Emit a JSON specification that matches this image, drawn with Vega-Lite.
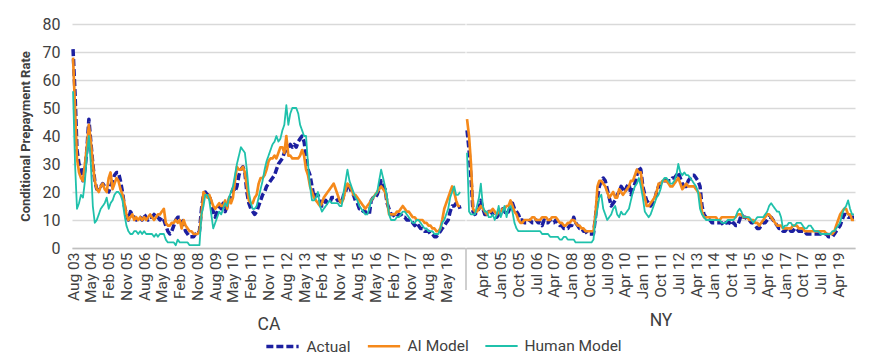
{
  "$schema": "https://vega.github.io/schema/vega-lite/v6.json",
  "background": "white",
  "padding": {"left": 19, "top": 16, "right": 10, "bottom": 0},
  "config": {
    "font": "Roboto",
    "view": {"stroke": null},
    "axis": {"labelColor": "#404040", "titleColor": "#404040", "labelFont": "Roboto", "titleFont": "Roboto"},
    "legend": {"labelFont": "Roboto", "labelColor": "#404040"},
    "line": {"strokeCap": "butt", "strokeJoin": "round"}
  },
  "datasets": {
    "rows": [
      {"state":"CA","date":"2003-08","actual":71,"ai":68,"human":56},
      {"state":"CA","date":"2003-09","actual":55,"ai":50,"human":30},
      {"state":"CA","date":"2003-10","actual":35,"ai":32,"human":14},
      {"state":"CA","date":"2003-11","actual":30,"ai":27,"human":16},
      {"state":"CA","date":"2003-12","actual":29,"ai":25,"human":19},
      {"state":"CA","date":"2004-01","actual":24,"ai":24,"human":18},
      {"state":"CA","date":"2004-02","actual":28,"ai":30,"human":24},
      {"state":"CA","date":"2004-03","actual":35,"ai":36,"human":33},
      {"state":"CA","date":"2004-04","actual":46,"ai":44,"human":40},
      {"state":"CA","date":"2004-05","actual":38,"ai":38,"human":30},
      {"state":"CA","date":"2004-06","actual":30,"ai":30,"human":15},
      {"state":"CA","date":"2004-07","actual":24,"ai":24,"human":9},
      {"state":"CA","date":"2004-08","actual":21,"ai":21,"human":10},
      {"state":"CA","date":"2004-09","actual":22,"ai":20,"human":12},
      {"state":"CA","date":"2004-10","actual":22,"ai":22,"human":14},
      {"state":"CA","date":"2004-11","actual":23,"ai":23,"human":15},
      {"state":"CA","date":"2004-12","actual":22,"ai":21,"human":16},
      {"state":"CA","date":"2005-01","actual":21,"ai":20,"human":18},
      {"state":"CA","date":"2005-02","actual":20,"ai":25,"human":14},
      {"state":"CA","date":"2005-03","actual":22,"ai":27,"human":16},
      {"state":"CA","date":"2005-04","actual":24,"ai":21,"human":17},
      {"state":"CA","date":"2005-05","actual":26,"ai":23,"human":19},
      {"state":"CA","date":"2005-06","actual":27,"ai":25,"human":20},
      {"state":"CA","date":"2005-07","actual":27,"ai":24,"human":20},
      {"state":"CA","date":"2005-08","actual":24,"ai":21,"human":19},
      {"state":"CA","date":"2005-09","actual":20,"ai":19,"human":17},
      {"state":"CA","date":"2005-10","actual":15,"ai":16,"human":12},
      {"state":"CA","date":"2005-11","actual":12,"ai":12,"human":8},
      {"state":"CA","date":"2005-12","actual":10,"ai":10,"human":6},
      {"state":"CA","date":"2006-01","actual":13,"ai":11,"human":5},
      {"state":"CA","date":"2006-02","actual":12,"ai":12,"human":5},
      {"state":"CA","date":"2006-03","actual":11,"ai":10,"human":6},
      {"state":"CA","date":"2006-04","actual":10,"ai":11,"human":6},
      {"state":"CA","date":"2006-05","actual":11,"ai":10,"human":5},
      {"state":"CA","date":"2006-06","actual":11,"ai":11,"human":6},
      {"state":"CA","date":"2006-07","actual":10,"ai":10,"human":5},
      {"state":"CA","date":"2006-08","actual":12,"ai":11,"human":6},
      {"state":"CA","date":"2006-09","actual":11,"ai":10,"human":5},
      {"state":"CA","date":"2006-10","actual":10,"ai":11,"human":5},
      {"state":"CA","date":"2006-11","actual":11,"ai":12,"human":5},
      {"state":"CA","date":"2006-12","actual":11,"ai":11,"human":5},
      {"state":"CA","date":"2007-01","actual":12,"ai":10,"human":4},
      {"state":"CA","date":"2007-02","actual":11,"ai":11,"human":5},
      {"state":"CA","date":"2007-03","actual":11,"ai":12,"human":4},
      {"state":"CA","date":"2007-04","actual":10,"ai":12,"human":5},
      {"state":"CA","date":"2007-05","actual":11,"ai":13,"human":5},
      {"state":"CA","date":"2007-06","actual":10,"ai":14,"human":5},
      {"state":"CA","date":"2007-07","actual":8,"ai":9,"human":3},
      {"state":"CA","date":"2007-08","actual":6,"ai":8,"human":2},
      {"state":"CA","date":"2007-09","actual":5,"ai":8,"human":2},
      {"state":"CA","date":"2007-10","actual":6,"ai":9,"human":2},
      {"state":"CA","date":"2007-11","actual":8,"ai":9,"human":2},
      {"state":"CA","date":"2007-12","actual":10,"ai":10,"human":1},
      {"state":"CA","date":"2008-01","actual":11,"ai":9,"human":3},
      {"state":"CA","date":"2008-02","actual":11,"ai":10,"human":2},
      {"state":"CA","date":"2008-03","actual":10,"ai":7,"human":2},
      {"state":"CA","date":"2008-04","actual":8,"ai":10,"human":2},
      {"state":"CA","date":"2008-05","actual":6,"ai":8,"human":2},
      {"state":"CA","date":"2008-06","actual":5,"ai":7,"human":2},
      {"state":"CA","date":"2008-07","actual":4,"ai":6,"human":1},
      {"state":"CA","date":"2008-08","actual":4,"ai":6,"human":1},
      {"state":"CA","date":"2008-09","actual":4,"ai":5,"human":1},
      {"state":"CA","date":"2008-10","actual":5,"ai":5,"human":1},
      {"state":"CA","date":"2008-11","actual":5,"ai":5,"human":1},
      {"state":"CA","date":"2008-12","actual":6,"ai":6,"human":1},
      {"state":"CA","date":"2009-01","actual":14,"ai":12,"human":12},
      {"state":"CA","date":"2009-02","actual":19,"ai":20,"human":15},
      {"state":"CA","date":"2009-03","actual":20,"ai":19,"human":19},
      {"state":"CA","date":"2009-04","actual":19,"ai":18,"human":19},
      {"state":"CA","date":"2009-05","actual":19,"ai":19,"human":17},
      {"state":"CA","date":"2009-06","actual":16,"ai":17,"human":12},
      {"state":"CA","date":"2009-07","actual":13,"ai":15,"human":7},
      {"state":"CA","date":"2009-08","actual":11,"ai":14,"human":9},
      {"state":"CA","date":"2009-09","actual":13,"ai":15,"human":11},
      {"state":"CA","date":"2009-10","actual":15,"ai":16,"human":13},
      {"state":"CA","date":"2009-11","actual":14,"ai":15,"human":12},
      {"state":"CA","date":"2009-12","actual":16,"ai":15,"human":14},
      {"state":"CA","date":"2010-01","actual":13,"ai":17,"human":16},
      {"state":"CA","date":"2010-02","actual":15,"ai":14,"human":15},
      {"state":"CA","date":"2010-03","actual":17,"ai":18,"human":18},
      {"state":"CA","date":"2010-04","actual":19,"ai":16,"human":20},
      {"state":"CA","date":"2010-05","actual":21,"ai":18,"human":22},
      {"state":"CA","date":"2010-06","actual":20,"ai":24,"human":26},
      {"state":"CA","date":"2010-07","actual":22,"ai":29,"human":30},
      {"state":"CA","date":"2010-08","actual":26,"ai":28,"human":33},
      {"state":"CA","date":"2010-09","actual":28,"ai":28,"human":36},
      {"state":"CA","date":"2010-10","actual":29,"ai":29,"human":35},
      {"state":"CA","date":"2010-11","actual":27,"ai":27,"human":34},
      {"state":"CA","date":"2010-12","actual":20,"ai":22,"human":28},
      {"state":"CA","date":"2011-01","actual":16,"ai":17,"human":20},
      {"state":"CA","date":"2011-02","actual":14,"ai":16,"human":16},
      {"state":"CA","date":"2011-03","actual":13,"ai":16,"human":14},
      {"state":"CA","date":"2011-04","actual":12,"ai":18,"human":14},
      {"state":"CA","date":"2011-05","actual":13,"ai":19,"human":15},
      {"state":"CA","date":"2011-06","actual":15,"ai":23,"human":18},
      {"state":"CA","date":"2011-07","actual":17,"ai":25,"human":21},
      {"state":"CA","date":"2011-08","actual":19,"ai":25,"human":24},
      {"state":"CA","date":"2011-09","actual":20,"ai":26,"human":28},
      {"state":"CA","date":"2011-10","actual":22,"ai":28,"human":31},
      {"state":"CA","date":"2011-11","actual":23,"ai":31,"human":33},
      {"state":"CA","date":"2011-12","actual":24,"ai":32,"human":35},
      {"state":"CA","date":"2012-01","actual":25,"ai":32,"human":37},
      {"state":"CA","date":"2012-02","actual":26,"ai":33,"human":38},
      {"state":"CA","date":"2012-03","actual":28,"ai":32,"human":40},
      {"state":"CA","date":"2012-04","actual":30,"ai":34,"human":38},
      {"state":"CA","date":"2012-05","actual":31,"ai":36,"human":39},
      {"state":"CA","date":"2012-06","actual":32,"ai":36,"human":42},
      {"state":"CA","date":"2012-07","actual":34,"ai":34,"human":44},
      {"state":"CA","date":"2012-08","actual":35,"ai":40,"human":51},
      {"state":"CA","date":"2012-09","actual":36,"ai":33,"human":44},
      {"state":"CA","date":"2012-10","actual":37,"ai":33,"human":48},
      {"state":"CA","date":"2012-11","actual":36,"ai":32,"human":50},
      {"state":"CA","date":"2012-12","actual":37,"ai":32,"human":50},
      {"state":"CA","date":"2013-01","actual":36,"ai":32,"human":50},
      {"state":"CA","date":"2013-02","actual":38,"ai":32,"human":48},
      {"state":"CA","date":"2013-03","actual":39,"ai":33,"human":44},
      {"state":"CA","date":"2013-04","actual":40,"ai":35,"human":42},
      {"state":"CA","date":"2013-05","actual":38,"ai":33,"human":40},
      {"state":"CA","date":"2013-06","actual":33,"ai":28,"human":40},
      {"state":"CA","date":"2013-07","actual":28,"ai":26,"human":30},
      {"state":"CA","date":"2013-08","actual":26,"ai":22,"human":22},
      {"state":"CA","date":"2013-09","actual":22,"ai":20,"human":17},
      {"state":"CA","date":"2013-10","actual":18,"ai":18,"human":17},
      {"state":"CA","date":"2013-11","actual":19,"ai":17,"human":18},
      {"state":"CA","date":"2013-12","actual":19,"ai":16,"human":20},
      {"state":"CA","date":"2014-01","actual":17,"ai":15,"human":15},
      {"state":"CA","date":"2014-02","actual":15,"ai":16,"human":13},
      {"state":"CA","date":"2014-03","actual":16,"ai":18,"human":14},
      {"state":"CA","date":"2014-04","actual":17,"ai":19,"human":15},
      {"state":"CA","date":"2014-05","actual":16,"ai":20,"human":16},
      {"state":"CA","date":"2014-06","actual":16,"ai":21,"human":17},
      {"state":"CA","date":"2014-07","actual":18,"ai":22,"human":16},
      {"state":"CA","date":"2014-08","actual":18,"ai":23,"human":16},
      {"state":"CA","date":"2014-09","actual":18,"ai":21,"human":16},
      {"state":"CA","date":"2014-10","actual":17,"ai":19,"human":16},
      {"state":"CA","date":"2014-11","actual":17,"ai":17,"human":15},
      {"state":"CA","date":"2014-12","actual":16,"ai":16,"human":15},
      {"state":"CA","date":"2015-01","actual":19,"ai":18,"human":20},
      {"state":"CA","date":"2015-02","actual":20,"ai":21,"human":24},
      {"state":"CA","date":"2015-03","actual":23,"ai":23,"human":28},
      {"state":"CA","date":"2015-04","actual":22,"ai":22,"human":24},
      {"state":"CA","date":"2015-05","actual":20,"ai":21,"human":22},
      {"state":"CA","date":"2015-06","actual":19,"ai":19,"human":20},
      {"state":"CA","date":"2015-07","actual":17,"ai":19,"human":18},
      {"state":"CA","date":"2015-08","actual":16,"ai":18,"human":17},
      {"state":"CA","date":"2015-09","actual":14,"ai":17,"human":15},
      {"state":"CA","date":"2015-10","actual":14,"ai":16,"human":14},
      {"state":"CA","date":"2015-11","actual":13,"ai":15,"human":13},
      {"state":"CA","date":"2015-12","actual":13,"ai":14,"human":12},
      {"state":"CA","date":"2016-01","actual":12,"ai":15,"human":12},
      {"state":"CA","date":"2016-02","actual":12,"ai":16,"human":14},
      {"state":"CA","date":"2016-03","actual":17,"ai":17,"human":17},
      {"state":"CA","date":"2016-04","actual":18,"ai":18,"human":18},
      {"state":"CA","date":"2016-05","actual":18,"ai":19,"human":19},
      {"state":"CA","date":"2016-06","actual":19,"ai":20,"human":20},
      {"state":"CA","date":"2016-07","actual":21,"ai":21,"human":24},
      {"state":"CA","date":"2016-08","actual":24,"ai":22,"human":28},
      {"state":"CA","date":"2016-09","actual":22,"ai":21,"human":25},
      {"state":"CA","date":"2016-10","actual":21,"ai":20,"human":22},
      {"state":"CA","date":"2016-11","actual":16,"ai":17,"human":18},
      {"state":"CA","date":"2016-12","actual":14,"ai":12,"human":12},
      {"state":"CA","date":"2017-01","actual":12,"ai":12,"human":10},
      {"state":"CA","date":"2017-02","actual":12,"ai":12,"human":10},
      {"state":"CA","date":"2017-03","actual":11,"ai":12,"human":10},
      {"state":"CA","date":"2017-04","actual":11,"ai":13,"human":11},
      {"state":"CA","date":"2017-05","actual":12,"ai":13,"human":11},
      {"state":"CA","date":"2017-06","actual":12,"ai":14,"human":12},
      {"state":"CA","date":"2017-07","actual":11,"ai":15,"human":13},
      {"state":"CA","date":"2017-08","actual":11,"ai":14,"human":13},
      {"state":"CA","date":"2017-09","actual":10,"ai":13,"human":12},
      {"state":"CA","date":"2017-10","actual":10,"ai":13,"human":11},
      {"state":"CA","date":"2017-11","actual":10,"ai":12,"human":10},
      {"state":"CA","date":"2017-12","actual":9,"ai":11,"human":9},
      {"state":"CA","date":"2018-01","actual":8,"ai":11,"human":9},
      {"state":"CA","date":"2018-02","actual":9,"ai":10,"human":10},
      {"state":"CA","date":"2018-03","actual":8,"ai":10,"human":10},
      {"state":"CA","date":"2018-04","actual":7,"ai":10,"human":9},
      {"state":"CA","date":"2018-05","actual":7,"ai":10,"human":8},
      {"state":"CA","date":"2018-06","actual":6,"ai":9,"human":7},
      {"state":"CA","date":"2018-07","actual":6,"ai":9,"human":7},
      {"state":"CA","date":"2018-08","actual":6,"ai":8,"human":6},
      {"state":"CA","date":"2018-09","actual":5,"ai":8,"human":6},
      {"state":"CA","date":"2018-10","actual":5,"ai":7,"human":6},
      {"state":"CA","date":"2018-11","actual":4,"ai":7,"human":5},
      {"state":"CA","date":"2018-12","actual":4,"ai":6,"human":5},
      {"state":"CA","date":"2019-01","actual":5,"ai":6,"human":5},
      {"state":"CA","date":"2019-02","actual":6,"ai":7,"human":7},
      {"state":"CA","date":"2019-03","actual":7,"ai":10,"human":9},
      {"state":"CA","date":"2019-04","actual":8,"ai":14,"human":10},
      {"state":"CA","date":"2019-05","actual":9,"ai":16,"human":12},
      {"state":"CA","date":"2019-06","actual":10,"ai":18,"human":14},
      {"state":"CA","date":"2019-07","actual":13,"ai":20,"human":18},
      {"state":"CA","date":"2019-08","actual":15,"ai":22,"human":20},
      {"state":"CA","date":"2019-09","actual":15,"ai":20,"human":22},
      {"state":"CA","date":"2019-10","actual":16,"ai":17,"human":19},
      {"state":"CA","date":"2019-11","actual":16,"ai":15,"human":19},
      {"state":"CA","date":"2019-12","actual":14,"ai":15,"human":20},
      {"state":"NY","date":"2003-08","actual":42,"ai":46,"human":34},
      {"state":"NY","date":"2003-09","actual":35,"ai":40,"human":13},
      {"state":"NY","date":"2003-10","actual":25,"ai":30,"human":12},
      {"state":"NY","date":"2003-11","actual":13,"ai":14,"human":12},
      {"state":"NY","date":"2003-12","actual":12,"ai":13,"human":12},
      {"state":"NY","date":"2004-01","actual":13,"ai":13,"human":15},
      {"state":"NY","date":"2004-02","actual":14,"ai":14,"human":18},
      {"state":"NY","date":"2004-03","actual":17,"ai":15,"human":23},
      {"state":"NY","date":"2004-04","actual":14,"ai":14,"human":15},
      {"state":"NY","date":"2004-05","actual":12,"ai":13,"human":13},
      {"state":"NY","date":"2004-06","actual":12,"ai":12,"human":13},
      {"state":"NY","date":"2004-07","actual":13,"ai":13,"human":11},
      {"state":"NY","date":"2004-08","actual":13,"ai":13,"human":11},
      {"state":"NY","date":"2004-09","actual":12,"ai":14,"human":12},
      {"state":"NY","date":"2004-10","actual":11,"ai":13,"human":10},
      {"state":"NY","date":"2004-11","actual":11,"ai":12,"human":12},
      {"state":"NY","date":"2004-12","actual":12,"ai":13,"human":15},
      {"state":"NY","date":"2005-01","actual":13,"ai":13,"human":11},
      {"state":"NY","date":"2005-02","actual":14,"ai":14,"human":13},
      {"state":"NY","date":"2005-03","actual":13,"ai":14,"human":15},
      {"state":"NY","date":"2005-04","actual":12,"ai":15,"human":11},
      {"state":"NY","date":"2005-05","actual":13,"ai":15,"human":14},
      {"state":"NY","date":"2005-06","actual":15,"ai":17,"human":15},
      {"state":"NY","date":"2005-07","actual":16,"ai":15,"human":13},
      {"state":"NY","date":"2005-08","actual":14,"ai":13,"human":9},
      {"state":"NY","date":"2005-09","actual":13,"ai":12,"human":7},
      {"state":"NY","date":"2005-10","actual":12,"ai":10,"human":6},
      {"state":"NY","date":"2005-11","actual":10,"ai":9,"human":6},
      {"state":"NY","date":"2005-12","actual":10,"ai":9,"human":6},
      {"state":"NY","date":"2006-01","actual":9,"ai":10,"human":6},
      {"state":"NY","date":"2006-02","actual":9,"ai":10,"human":6},
      {"state":"NY","date":"2006-03","actual":9,"ai":10,"human":6},
      {"state":"NY","date":"2006-04","actual":10,"ai":10,"human":6},
      {"state":"NY","date":"2006-05","actual":9,"ai":11,"human":6},
      {"state":"NY","date":"2006-06","actual":9,"ai":11,"human":6},
      {"state":"NY","date":"2006-07","actual":10,"ai":10,"human":6},
      {"state":"NY","date":"2006-08","actual":9,"ai":10,"human":6},
      {"state":"NY","date":"2006-09","actual":9,"ai":10,"human":6},
      {"state":"NY","date":"2006-10","actual":8,"ai":11,"human":5},
      {"state":"NY","date":"2006-11","actual":10,"ai":11,"human":5},
      {"state":"NY","date":"2006-12","actual":9,"ai":11,"human":5},
      {"state":"NY","date":"2007-01","actual":9,"ai":10,"human":5},
      {"state":"NY","date":"2007-02","actual":10,"ai":10,"human":4},
      {"state":"NY","date":"2007-03","actual":9,"ai":11,"human":4},
      {"state":"NY","date":"2007-04","actual":9,"ai":11,"human":4},
      {"state":"NY","date":"2007-05","actual":10,"ai":11,"human":4},
      {"state":"NY","date":"2007-06","actual":9,"ai":10,"human":4},
      {"state":"NY","date":"2007-07","actual":8,"ai":9,"human":3},
      {"state":"NY","date":"2007-08","actual":8,"ai":9,"human":3},
      {"state":"NY","date":"2007-09","actual":7,"ai":8,"human":4},
      {"state":"NY","date":"2007-10","actual":7,"ai":8,"human":4},
      {"state":"NY","date":"2007-11","actual":7,"ai":9,"human":3},
      {"state":"NY","date":"2007-12","actual":8,"ai":9,"human":3},
      {"state":"NY","date":"2008-01","actual":8,"ai":10,"human":3},
      {"state":"NY","date":"2008-02","actual":11,"ai":10,"human":3},
      {"state":"NY","date":"2008-03","actual":9,"ai":9,"human":2},
      {"state":"NY","date":"2008-04","actual":8,"ai":8,"human":2},
      {"state":"NY","date":"2008-05","actual":7,"ai":8,"human":2},
      {"state":"NY","date":"2008-06","actual":7,"ai":7,"human":2},
      {"state":"NY","date":"2008-07","actual":6,"ai":7,"human":2},
      {"state":"NY","date":"2008-08","actual":6,"ai":6,"human":2},
      {"state":"NY","date":"2008-09","actual":5,"ai":6,"human":2},
      {"state":"NY","date":"2008-10","actual":5,"ai":6,"human":2},
      {"state":"NY","date":"2008-11","actual":5,"ai":6,"human":2},
      {"state":"NY","date":"2008-12","actual":5,"ai":6,"human":3},
      {"state":"NY","date":"2009-01","actual":11,"ai":12,"human":10},
      {"state":"NY","date":"2009-02","actual":18,"ai":22,"human":14},
      {"state":"NY","date":"2009-03","actual":22,"ai":24,"human":18},
      {"state":"NY","date":"2009-04","actual":24,"ai":24,"human":19},
      {"state":"NY","date":"2009-05","actual":25,"ai":23,"human":14},
      {"state":"NY","date":"2009-06","actual":24,"ai":22,"human":12},
      {"state":"NY","date":"2009-07","actual":21,"ai":20,"human":10},
      {"state":"NY","date":"2009-08","actual":18,"ai":18,"human":11},
      {"state":"NY","date":"2009-09","actual":15,"ai":19,"human":12},
      {"state":"NY","date":"2009-10","actual":16,"ai":20,"human":14},
      {"state":"NY","date":"2009-11","actual":17,"ai":18,"human":15},
      {"state":"NY","date":"2009-12","actual":19,"ai":18,"human":12},
      {"state":"NY","date":"2010-01","actual":20,"ai":21,"human":11},
      {"state":"NY","date":"2010-02","actual":22,"ai":20,"human":13},
      {"state":"NY","date":"2010-03","actual":21,"ai":19,"human":12},
      {"state":"NY","date":"2010-04","actual":20,"ai":20,"human":12},
      {"state":"NY","date":"2010-05","actual":22,"ai":21,"human":13},
      {"state":"NY","date":"2010-06","actual":23,"ai":22,"human":14},
      {"state":"NY","date":"2010-07","actual":19,"ai":24,"human":17},
      {"state":"NY","date":"2010-08","actual":21,"ai":24,"human":20},
      {"state":"NY","date":"2010-09","actual":23,"ai":26,"human":22},
      {"state":"NY","date":"2010-10","actual":26,"ai":28,"human":23},
      {"state":"NY","date":"2010-11","actual":29,"ai":27,"human":25},
      {"state":"NY","date":"2010-12","actual":28,"ai":27,"human":22},
      {"state":"NY","date":"2011-01","actual":22,"ai":21,"human":18},
      {"state":"NY","date":"2011-02","actual":19,"ai":18,"human":13},
      {"state":"NY","date":"2011-03","actual":17,"ai":15,"human":12},
      {"state":"NY","date":"2011-04","actual":16,"ai":15,"human":11},
      {"state":"NY","date":"2011-05","actual":15,"ai":16,"human":12},
      {"state":"NY","date":"2011-06","actual":16,"ai":17,"human":14},
      {"state":"NY","date":"2011-07","actual":17,"ai":18,"human":16},
      {"state":"NY","date":"2011-08","actual":20,"ai":20,"human":18},
      {"state":"NY","date":"2011-09","actual":22,"ai":23,"human":19},
      {"state":"NY","date":"2011-10","actual":23,"ai":23,"human":21},
      {"state":"NY","date":"2011-11","actual":24,"ai":24,"human":24},
      {"state":"NY","date":"2011-12","actual":24,"ai":24,"human":25},
      {"state":"NY","date":"2012-01","actual":24,"ai":24,"human":25},
      {"state":"NY","date":"2012-02","actual":24,"ai":23,"human":24},
      {"state":"NY","date":"2012-03","actual":24,"ai":22,"human":23},
      {"state":"NY","date":"2012-04","actual":25,"ai":22,"human":23},
      {"state":"NY","date":"2012-05","actual":25,"ai":23,"human":24},
      {"state":"NY","date":"2012-06","actual":26,"ai":24,"human":26},
      {"state":"NY","date":"2012-07","actual":27,"ai":25,"human":30},
      {"state":"NY","date":"2012-08","actual":25,"ai":23,"human":27},
      {"state":"NY","date":"2012-09","actual":23,"ai":21,"human":26},
      {"state":"NY","date":"2012-10","actual":22,"ai":22,"human":27},
      {"state":"NY","date":"2012-11","actual":22,"ai":23,"human":26},
      {"state":"NY","date":"2012-12","actual":24,"ai":22,"human":26},
      {"state":"NY","date":"2013-01","actual":25,"ai":22,"human":25},
      {"state":"NY","date":"2013-02","actual":26,"ai":22,"human":24},
      {"state":"NY","date":"2013-03","actual":26,"ai":22,"human":23},
      {"state":"NY","date":"2013-04","actual":25,"ai":21,"human":22},
      {"state":"NY","date":"2013-05","actual":24,"ai":20,"human":20},
      {"state":"NY","date":"2013-06","actual":22,"ai":19,"human":14},
      {"state":"NY","date":"2013-07","actual":15,"ai":13,"human":12},
      {"state":"NY","date":"2013-08","actual":12,"ai":11,"human":11},
      {"state":"NY","date":"2013-09","actual":11,"ai":11,"human":10},
      {"state":"NY","date":"2013-10","actual":10,"ai":11,"human":10},
      {"state":"NY","date":"2013-11","actual":10,"ai":11,"human":10},
      {"state":"NY","date":"2013-12","actual":9,"ai":11,"human":10},
      {"state":"NY","date":"2014-01","actual":9,"ai":11,"human":10},
      {"state":"NY","date":"2014-02","actual":9,"ai":11,"human":10},
      {"state":"NY","date":"2014-03","actual":9,"ai":10,"human":10},
      {"state":"NY","date":"2014-04","actual":9,"ai":10,"human":10},
      {"state":"NY","date":"2014-05","actual":9,"ai":11,"human":9},
      {"state":"NY","date":"2014-06","actual":8,"ai":11,"human":9},
      {"state":"NY","date":"2014-07","actual":9,"ai":11,"human":9},
      {"state":"NY","date":"2014-08","actual":9,"ai":11,"human":10},
      {"state":"NY","date":"2014-09","actual":9,"ai":11,"human":10},
      {"state":"NY","date":"2014-10","actual":8,"ai":11,"human":10},
      {"state":"NY","date":"2014-11","actual":9,"ai":11,"human":10},
      {"state":"NY","date":"2014-12","actual":8,"ai":11,"human":11},
      {"state":"NY","date":"2015-01","actual":8,"ai":12,"human":13},
      {"state":"NY","date":"2015-02","actual":10,"ai":12,"human":14},
      {"state":"NY","date":"2015-03","actual":12,"ai":12,"human":13},
      {"state":"NY","date":"2015-04","actual":11,"ai":11,"human":11},
      {"state":"NY","date":"2015-05","actual":11,"ai":11,"human":11},
      {"state":"NY","date":"2015-06","actual":10,"ai":11,"human":11},
      {"state":"NY","date":"2015-07","actual":10,"ai":10,"human":11},
      {"state":"NY","date":"2015-08","actual":9,"ai":10,"human":10},
      {"state":"NY","date":"2015-09","actual":9,"ai":10,"human":9},
      {"state":"NY","date":"2015-10","actual":8,"ai":9,"human":10},
      {"state":"NY","date":"2015-11","actual":7,"ai":9,"human":11},
      {"state":"NY","date":"2015-12","actual":7,"ai":8,"human":11},
      {"state":"NY","date":"2016-01","actual":8,"ai":9,"human":11},
      {"state":"NY","date":"2016-02","actual":9,"ai":10,"human":11},
      {"state":"NY","date":"2016-03","actual":9,"ai":11,"human":12},
      {"state":"NY","date":"2016-04","actual":10,"ai":12,"human":13},
      {"state":"NY","date":"2016-05","actual":11,"ai":12,"human":15},
      {"state":"NY","date":"2016-06","actual":11,"ai":11,"human":16},
      {"state":"NY","date":"2016-07","actual":10,"ai":10,"human":15},
      {"state":"NY","date":"2016-08","actual":9,"ai":9,"human":14},
      {"state":"NY","date":"2016-09","actual":8,"ai":8,"human":13},
      {"state":"NY","date":"2016-10","actual":7,"ai":8,"human":13},
      {"state":"NY","date":"2016-11","actual":7,"ai":8,"human":11},
      {"state":"NY","date":"2016-12","actual":6,"ai":7,"human":7},
      {"state":"NY","date":"2017-01","actual":6,"ai":7,"human":8},
      {"state":"NY","date":"2017-02","actual":7,"ai":7,"human":8},
      {"state":"NY","date":"2017-03","actual":7,"ai":7,"human":9},
      {"state":"NY","date":"2017-04","actual":6,"ai":7,"human":9},
      {"state":"NY","date":"2017-05","actual":6,"ai":8,"human":8},
      {"state":"NY","date":"2017-06","actual":7,"ai":8,"human":8},
      {"state":"NY","date":"2017-07","actual":7,"ai":8,"human":9},
      {"state":"NY","date":"2017-08","actual":6,"ai":7,"human":9},
      {"state":"NY","date":"2017-09","actual":6,"ai":7,"human":9},
      {"state":"NY","date":"2017-10","actual":6,"ai":7,"human":8},
      {"state":"NY","date":"2017-11","actual":6,"ai":6,"human":7},
      {"state":"NY","date":"2017-12","actual":5,"ai":6,"human":7},
      {"state":"NY","date":"2018-01","actual":5,"ai":6,"human":8},
      {"state":"NY","date":"2018-02","actual":5,"ai":6,"human":8},
      {"state":"NY","date":"2018-03","actual":5,"ai":6,"human":7},
      {"state":"NY","date":"2018-04","actual":5,"ai":6,"human":6},
      {"state":"NY","date":"2018-05","actual":5,"ai":6,"human":6},
      {"state":"NY","date":"2018-06","actual":5,"ai":6,"human":6},
      {"state":"NY","date":"2018-07","actual":5,"ai":6,"human":5},
      {"state":"NY","date":"2018-08","actual":5,"ai":6,"human":5},
      {"state":"NY","date":"2018-09","actual":5,"ai":6,"human":5},
      {"state":"NY","date":"2018-10","actual":5,"ai":5,"human":5},
      {"state":"NY","date":"2018-11","actual":4,"ai":5,"human":5},
      {"state":"NY","date":"2018-12","actual":4,"ai":5,"human":5},
      {"state":"NY","date":"2019-01","actual":4,"ai":5,"human":6},
      {"state":"NY","date":"2019-02","actual":5,"ai":6,"human":6},
      {"state":"NY","date":"2019-03","actual":6,"ai":8,"human":7},
      {"state":"NY","date":"2019-04","actual":7,"ai":10,"human":8},
      {"state":"NY","date":"2019-05","actual":8,"ai":12,"human":9},
      {"state":"NY","date":"2019-06","actual":10,"ai":13,"human":12},
      {"state":"NY","date":"2019-07","actual":12,"ai":14,"human":14},
      {"state":"NY","date":"2019-08","actual":12,"ai":14,"human":15},
      {"state":"NY","date":"2019-09","actual":11,"ai":12,"human":17},
      {"state":"NY","date":"2019-10","actual":11,"ai":12,"human":14},
      {"state":"NY","date":"2019-11","actual":11,"ai":10,"human":12},
      {"state":"NY","date":"2019-12","actual":11,"ai":10,"human":12}
    ]
  },
  "data": {"name": "rows"},
  "transform": [{"fold": ["actual", "ai", "human"], "as": ["series", "rate"]}],
  "spacing": 0,
  "hconcat": [
    {
      "width": 393,
      "height": 224,
      "transform": [{"filter": "datum.state === 'CA'"}],
      "mark": {"type": "line"},
      "encoding": {
        "x": {
          "field": "date", "type": "temporal",
          "scale": {"type": "utc", "domain": [{"year": 2003, "month": 7, "date": 16, "utc": true}, {"year": 2020, "month": 2, "date": 15, "utc": true}]},
          "axis": {
            "values": [
              {"year": 2003, "month": 8, "date": 1, "utc": true},
              {"year": 2004, "month": 5, "date": 1, "utc": true},
              {"year": 2005, "month": 2, "date": 1, "utc": true},
              {"year": 2005, "month": 11, "date": 1, "utc": true},
              {"year": 2006, "month": 8, "date": 1, "utc": true},
              {"year": 2007, "month": 5, "date": 1, "utc": true},
              {"year": 2008, "month": 2, "date": 1, "utc": true},
              {"year": 2008, "month": 11, "date": 1, "utc": true},
              {"year": 2009, "month": 8, "date": 1, "utc": true},
              {"year": 2010, "month": 5, "date": 1, "utc": true},
              {"year": 2011, "month": 2, "date": 1, "utc": true},
              {"year": 2011, "month": 11, "date": 1, "utc": true},
              {"year": 2012, "month": 8, "date": 1, "utc": true},
              {"year": 2013, "month": 5, "date": 1, "utc": true},
              {"year": 2014, "month": 2, "date": 1, "utc": true},
              {"year": 2014, "month": 11, "date": 1, "utc": true},
              {"year": 2015, "month": 8, "date": 1, "utc": true},
              {"year": 2016, "month": 5, "date": 1, "utc": true},
              {"year": 2017, "month": 2, "date": 1, "utc": true},
              {"year": 2017, "month": 11, "date": 1, "utc": true},
              {"year": 2018, "month": 8, "date": 1, "utc": true},
              {"year": 2019, "month": 5, "date": 1, "utc": true}
            ],
            "format": "%b %y",
            "labelAngle": 270, "labelAlign": "right", "labelBaseline": "middle",
            "labelFontSize": 15.5, "labelPadding": 4, "labelOverlap": false, "labelFlush": false,
            "ticks": false, "grid": false,
            "domainColor": "#bfbfbf", "domainWidth": 1.5,
            "title": "CA", "titleFontSize": 17.5, "titleFontWeight": "normal", "titlePadding": 13
          }
        },
        "y": {
          "field": "rate", "type": "quantitative",
          "scale": {"domain": [0, 80], "nice": false},
          "axis": {
            "values": [0, 10, 20, 30, 40, 50, 60, 70, 80],
            "title": "Conditional Prepayment Rate", "titleFontSize": 13, "titleFontWeight": "bold", "titlePadding": 10,
            "labelFontSize": 16, "labelPadding": 12,
            "domain": false, "ticks": false,
            "gridColor": "#d9d9d9", "gridWidth": 1.5
          }
        },
        "color": {
          "field": "series", "type": "nominal",
          "scale": {"domain": ["actual", "ai", "human"], "range": ["#1c1fa0", "#f5891a", "#1fc1ab"]},
          "legend": {
            "title": null, "orient": "none", "legendX": 200, "legendY": 312, "direction": "horizontal",
            "symbolType": "M-1.9,0H1.9", "symbolSize": 289,
            "labelFontSize": 15.5, "columnPadding": 15, "labelOffset": 13.5,
            "labelExpr": "datum.label === 'actual' ? 'Actual' : datum.label === 'ai' ? 'AI Model' : 'Human Model'"
          }
        },
        "strokeDash": {
          "field": "series", "type": "nominal",
          "scale": {"domain": ["actual", "ai", "human"], "range": [[7, 3], [1, 0], [1, 0]]},
          "legend": {
            "title": null, "orient": "none", "legendX": 200, "legendY": 312, "direction": "horizontal",
            "symbolType": "M-1.9,0H1.9", "symbolSize": 289,
            "labelFontSize": 15.5, "columnPadding": 15, "labelOffset": 13.5,
            "labelExpr": "datum.label === 'actual' ? 'Actual' : datum.label === 'ai' ? 'AI Model' : 'Human Model'"
          }
        },
        "strokeWidth": {
          "field": "series", "type": "ordinal",
          "scale": {"domain": ["actual", "ai", "human"], "range": [3.5, 1.8, 1.6]},
          "legend": {
            "title": null, "orient": "none", "legendX": 200, "legendY": 312, "direction": "horizontal",
            "symbolType": "M-1.9,0H1.9", "symbolSize": 289,
            "labelFontSize": 15.5, "columnPadding": 15, "labelOffset": 13.5,
            "labelExpr": "datum.label === 'actual' ? 'Actual' : datum.label === 'ai' ? 'AI Model' : 'Human Model'"
          }
        }
      }
    },
    {
      "width": 389,
      "height": 224,
      "layer": [
        {
          "transform": [{"filter": "datum.state === 'NY'"}],
          "mark": {"type": "line"},
          "encoding": {
            "x": {
              "field": "date", "type": "temporal",
              "scale": {"type": "utc", "domain": [{"year": 2003, "month": 7, "date": 16, "utc": true}, {"year": 2019, "month": 12, "date": 16, "utc": true}]},
              "axis": {
                "values": [
                  {"year": 2004, "month": 4, "date": 1, "utc": true},
                  {"year": 2005, "month": 1, "date": 1, "utc": true},
                  {"year": 2005, "month": 10, "date": 1, "utc": true},
                  {"year": 2006, "month": 7, "date": 1, "utc": true},
                  {"year": 2007, "month": 4, "date": 1, "utc": true},
                  {"year": 2008, "month": 1, "date": 1, "utc": true},
                  {"year": 2008, "month": 10, "date": 1, "utc": true},
                  {"year": 2009, "month": 7, "date": 1, "utc": true},
                  {"year": 2010, "month": 4, "date": 1, "utc": true},
                  {"year": 2011, "month": 1, "date": 1, "utc": true},
                  {"year": 2011, "month": 10, "date": 1, "utc": true},
                  {"year": 2012, "month": 7, "date": 1, "utc": true},
                  {"year": 2013, "month": 4, "date": 1, "utc": true},
                  {"year": 2014, "month": 1, "date": 1, "utc": true},
                  {"year": 2014, "month": 10, "date": 1, "utc": true},
                  {"year": 2015, "month": 7, "date": 1, "utc": true},
                  {"year": 2016, "month": 4, "date": 1, "utc": true},
                  {"year": 2017, "month": 1, "date": 1, "utc": true},
                  {"year": 2017, "month": 10, "date": 1, "utc": true},
                  {"year": 2018, "month": 7, "date": 1, "utc": true},
                  {"year": 2019, "month": 4, "date": 1, "utc": true}
                ],
                "format": "%b %y",
                "labelAngle": 270, "labelAlign": "right", "labelBaseline": "middle",
                "labelFontSize": 15.5, "labelPadding": 4, "labelOverlap": false, "labelFlush": false,
                "ticks": false, "grid": false,
                "domainColor": "#bfbfbf", "domainWidth": 1.5,
                "title": "NY", "titleFontSize": 17.5, "titleFontWeight": "normal", "titlePadding": 13
              }
            },
            "y": {
              "field": "rate", "type": "quantitative",
              "scale": {"domain": [0, 80], "nice": false},
              "axis": {
                "values": [0, 10, 20, 30, 40, 50, 60, 70, 80],
                "title": null, "labels": false, "domain": false, "ticks": false,
                "gridColor": "#d9d9d9", "gridWidth": 1.5
              }
            },
            "color": {"field": "series", "type": "nominal", "scale": {"domain": ["actual", "ai", "human"], "range": ["#1c1fa0", "#f5891a", "#1fc1ab"]}},
            "strokeDash": {"field": "series", "type": "nominal", "scale": {"domain": ["actual", "ai", "human"], "range": [[7, 3], [1, 0], [1, 0]]}},
            "strokeWidth": {"field": "series", "type": "ordinal", "scale": {"domain": ["actual", "ai", "human"], "range": [3.5, 1.8, 1.6]}}
          }
        },
        {
          "data": {"values": [{"edge": "start"}]},
          "mark": {"type": "rule", "color": "#bfbfbf", "strokeWidth": 1.5},
          "encoding": {
            "x": {
              "datum": {"year": 2003, "month": 7, "date": 16, "utc": true}, "type": "temporal",
              "axis": {
                "values": [
                  {"year": 2004, "month": 4, "date": 1, "utc": true},
                  {"year": 2005, "month": 1, "date": 1, "utc": true},
                  {"year": 2005, "month": 10, "date": 1, "utc": true},
                  {"year": 2006, "month": 7, "date": 1, "utc": true},
                  {"year": 2007, "month": 4, "date": 1, "utc": true},
                  {"year": 2008, "month": 1, "date": 1, "utc": true},
                  {"year": 2008, "month": 10, "date": 1, "utc": true},
                  {"year": 2009, "month": 7, "date": 1, "utc": true},
                  {"year": 2010, "month": 4, "date": 1, "utc": true},
                  {"year": 2011, "month": 1, "date": 1, "utc": true},
                  {"year": 2011, "month": 10, "date": 1, "utc": true},
                  {"year": 2012, "month": 7, "date": 1, "utc": true},
                  {"year": 2013, "month": 4, "date": 1, "utc": true},
                  {"year": 2014, "month": 1, "date": 1, "utc": true},
                  {"year": 2014, "month": 10, "date": 1, "utc": true},
                  {"year": 2015, "month": 7, "date": 1, "utc": true},
                  {"year": 2016, "month": 4, "date": 1, "utc": true},
                  {"year": 2017, "month": 1, "date": 1, "utc": true},
                  {"year": 2017, "month": 10, "date": 1, "utc": true},
                  {"year": 2018, "month": 7, "date": 1, "utc": true},
                  {"year": 2019, "month": 4, "date": 1, "utc": true}
                ],
                "format": "%b %y",
                "labelAngle": 270, "labelAlign": "right", "labelBaseline": "middle",
                "labelFontSize": 15.5, "labelPadding": 4, "labelOverlap": false, "labelFlush": false,
                "ticks": false, "grid": false,
                "domainColor": "#bfbfbf", "domainWidth": 1.5,
                "title": "NY", "titleFontSize": 17.5, "titleFontWeight": "normal", "titlePadding": 13
              }
            },
            "y": {
              "datum": 0, "type": "quantitative",
              "axis": {
                "values": [0, 10, 20, 30, 40, 50, 60, 70, 80],
                "title": null, "labels": false, "domain": false, "ticks": false,
                "gridColor": "#d9d9d9", "gridWidth": 1.5
              }
            },
            "y2": {"datum": -15}
          }
        }
      ]
    }
  ],
  "resolve": {"scale": {"x": "independent", "y": "independent", "color": "shared", "strokeDash": "shared", "strokeWidth": "shared"}}
}
